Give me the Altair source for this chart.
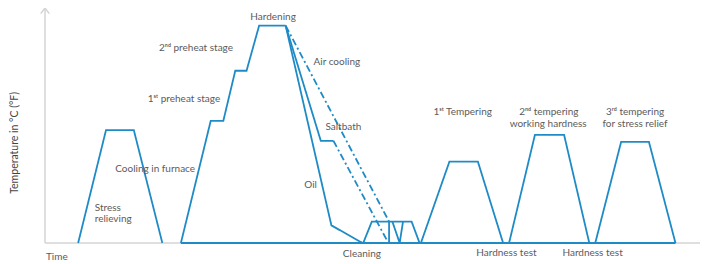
import altair as alt
import pandas as pd

# ---- process curves (time units, temperature units 0-100) ----
stress_t = [5.0, 9.2, 13.4, 17.7]
stress_T = [0, 48, 48, 0]

hardening_t = [20.5, 25.0, 26.9, 28.7, 30.4, 32.3, 36.3]
hardening_T = [0, 52, 52, 73.3, 73.3, 92.5, 92.5]

oil_t = [36.3, 43.2, 47.9]
oil_T = [92.5, 7.5, 0]

saltbath_t = [36.3, 41.6, 43.5]
saltbath_T = [92.5, 43.5, 43.5]
saltbath_cool_t = [43.5, 51.8]
saltbath_cool_T = [43.5, 0]

air_t = [36.3, 51.9]
air_T = [92.5, 9.1]

cleaning_t = [48.0, 49.3, 55.3, 56.5]
cleaning_T = [0, 9.1, 9.1, 0]
cleaning_drop_t = [51.9, 51.9]
cleaning_drop_T = [9.1, 0]
cleaning_notch_t = [52.4, 53.5, 54.0]
cleaning_notch_T = [9.1, 0, 9.1]

temper1_t = [56.7, 61.0, 65.3, 69.1]
temper1_T = [0, 34.6, 34.6, 0]
temper2_t = [70.0, 73.9, 78.3, 82.1]
temper2_T = [0, 46.0, 46.0, 0]
temper3_t = [83.0, 86.9, 91.1, 95.1]
temper3_T = [0, 43.0, 43.0, 0]

baseline_t = [20.5, 95.1]
baseline_T = [0, 0]

# ---- annotations ----
left_labels = ["Stress", "relieving", "Cooling in furnace", "1\u02e2\u1d57 preheat stage",
               "2\u207f\u1d48 preheat stage", "Air cooling", "Saltbath", "Oil", "Time"]
left_t = [7.5, 7.5, 10.6, 15.5, 17.2, 40.5, 42.3, 39.1, 0.15]
left_T = [15.0, 10.1, 31.5, 61.1, 82.9, 77.1, 49.2, 24.7, -5.8]

center_labels = ["Hardening", "Cleaning", "Hardness test", "Hardness test",
                 "1\u02e2\u1d57 Tempering", "2\u207f\u1d48 tempering", "working hardness",
                 "3\u02b3\u1d48 tempering", "for stress relief"]
center_t = [34.4, 47.8, 69.6, 82.6, 63.0, 76.0, 75.9, 89.0, 89.0]
center_T = [96.3, -4.7, -4.4, -4.4, 55.6, 55.6, 50.5, 55.6, 50.5]

y_title = "Temperature in \u00b0C (\u00b0F)"

# ---- build tables ----
rows = []
def add(name, ts, Ts, style):
    for i, (a, b) in enumerate(zip(ts, Ts)):
        rows.append(dict(seg=name, t=a, T=b, i=i, style=style))

add("stress", stress_t, stress_T, "solid")
add("hardening", hardening_t, hardening_T, "solid")
add("oil", oil_t, oil_T, "solid")
add("saltbath", saltbath_t, saltbath_T, "solid")
add("saltbath_cool", saltbath_cool_t, saltbath_cool_T, "dashdot")
add("air", air_t, air_T, "dashdot")
add("cleaning", cleaning_t, cleaning_T, "solid")
add("cleaning_drop", cleaning_drop_t, cleaning_drop_T, "solid")
add("cleaning_notch", cleaning_notch_t, cleaning_notch_T, "solid")
add("temper1", temper1_t, temper1_T, "solid")
add("temper2", temper2_t, temper2_T, "solid")
add("temper3", temper3_t, temper3_T, "solid")
add("baseline", baseline_t, baseline_T, "solid")
curves = pd.DataFrame(rows)

X_MAX = 98.8
xs = alt.Scale(domain=[0, X_MAX], nice=False, zero=False)
ys = alt.Scale(domain=[0, 100], nice=False, zero=False)

BLUE = "#1f8bc6"
GREY_AXIS = "#d4d4d4"
TEXT = "#5b5b5b"
FONT = "Lato, DejaVu Sans"

axes_df = pd.DataFrame({"seg": ["y", "y", "x", "x", "arrow", "arrow", "arrow"],
                        "t": [0, 0, 0, X_MAX, -0.65, 0, 0.65],
                        "T": [0, 100, 0, 0, 97.6, 100, 97.6],
                        "i": [0, 1, 0, 1, 0, 1, 2]})

axes = alt.Chart(axes_df).mark_line(color=GREY_AXIS, strokeWidth=1.5).encode(
    x=alt.X("t:Q", scale=xs, axis=None),
    y=alt.Y("T:Q", scale=ys, axis=None),
    detail="seg:N",
    order="i:Q",
)

lines = alt.Chart(curves).mark_line(color=BLUE, strokeWidth=1.8, strokeJoin="miter").encode(
    x=alt.X("t:Q", scale=xs, axis=None),
    y=alt.Y("T:Q", scale=ys, axis=None),
    detail="seg:N",
    order="i:Q",
    strokeDash=alt.StrokeDash("style:N",
                              scale=alt.Scale(domain=["solid", "dashdot"],
                                              range=[[1, 0], [7, 3, 2, 3]]),
                              legend=None),
)

left_df = pd.DataFrame({"label": left_labels, "t": left_t, "T": left_T})
center_df = pd.DataFrame({"label": center_labels, "t": center_t, "T": center_T})
title_df = pd.DataFrame({"label": [y_title], "t": [-4.55], "T": [42.6]})

left_text = alt.Chart(left_df).mark_text(align="left", baseline="middle", fontSize=10,
                                         font=FONT, color=TEXT).encode(
    x=alt.X("t:Q", scale=xs, axis=None), y=alt.Y("T:Q", scale=ys, axis=None), text="label:N")

center_text = alt.Chart(center_df).mark_text(align="center", baseline="middle", fontSize=10,
                                             font=FONT, color=TEXT).encode(
    x=alt.X("t:Q", scale=xs, axis=None), y=alt.Y("T:Q", scale=ys, axis=None), text="label:N")

title_text = alt.Chart(title_df).mark_text(align="center", baseline="middle", fontSize=10.5,
                                           angle=270, font=FONT, color="#444444").encode(
    x=alt.X("t:Q", scale=xs, axis=None), y=alt.Y("T:Q", scale=ys, axis=None), text="label:N")

chart = alt.layer(axes, lines, left_text, center_text, title_text).properties(
    width=655, height=235,
    autosize=alt.AutoSizeParams(type="none"),
    padding={"left": 37, "top": 0, "right": 0, "bottom": 21},
).configure_view(stroke=None)

chart.save("out.html", embed_options={"renderer": "svg", "actions": False})
